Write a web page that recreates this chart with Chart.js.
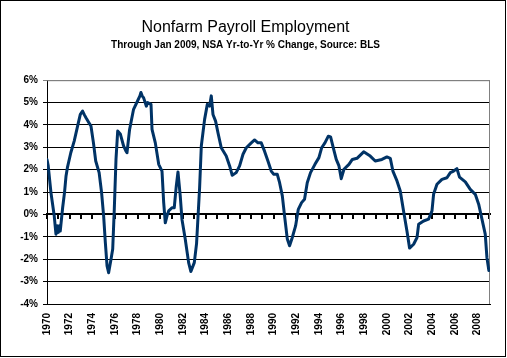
<!DOCTYPE html>
<html>
<head>
<meta charset="utf-8">
<script src="https://cdn.jsdelivr.net/npm/chart.js@4.4.1/dist/chart.umd.min.js"></script>
<style>
  body { margin: 0; background: #fff; }
  .frame { width: 504px; height: 355px; border: 1px solid #000; }
</style>
</head>
<body>
<div class="frame"><canvas id="payrollChart" width="504" height="355"></canvas></div>
<script>
// year-over-year % change (decimal years)
const years = [
  1970.00, 1970.10, 1970.35, 1970.64, 1970.79, 1970.90, 1971.00, 1971.10, 1971.17, 1971.38,
  1971.55, 1971.68, 1971.80, 1972.10, 1972.40, 1972.70, 1972.94, 1973.14, 1973.30, 1973.44,
  1973.70, 1973.88, 1974.10, 1974.30, 1974.60, 1974.82, 1975.00, 1975.15, 1975.30, 1975.44,
  1975.65, 1975.80, 1975.94, 1976.09, 1976.24, 1976.47, 1976.76, 1976.95, 1977.06, 1977.29,
  1977.64, 1977.99, 1978.20, 1978.29, 1978.40, 1978.53, 1978.77, 1978.88, 1979.18, 1979.27,
  1979.56, 1979.86, 1980.15, 1980.30, 1980.44, 1980.60, 1980.74, 1981.03, 1981.23, 1981.41,
  1981.56, 1981.76, 1981.91, 1982.20, 1982.50, 1982.70, 1983.00, 1983.20, 1983.47, 1983.62,
  1983.91, 1984.15, 1984.35, 1984.50, 1984.65, 1984.88, 1985.09, 1985.38, 1985.82, 1986.12,
  1986.35, 1986.70, 1987.00, 1987.30, 1987.59, 1988.03, 1988.32, 1988.62, 1988.91, 1989.20,
  1989.50, 1989.79, 1990.00, 1990.32, 1990.53, 1990.77, 1990.97, 1991.21, 1991.41, 1991.65,
  1991.94, 1992.18, 1992.47, 1992.73, 1992.97, 1993.26, 1993.65, 1994.00, 1994.24, 1994.53,
  1994.83, 1995.03, 1995.27, 1995.53, 1995.77, 1995.97, 1996.21, 1996.65, 1996.95, 1997.36,
  1997.95, 1998.53, 1998.97, 1999.56, 2000.00, 2000.30, 2000.53, 2000.89, 2001.18, 2001.47,
  2001.77, 2002.00, 2002.36, 2002.66, 2002.80, 2003.24, 2003.68, 2003.98, 2004.12, 2004.42,
  2004.86, 2005.30, 2005.60, 2005.89, 2006.18, 2006.41, 2006.92, 2007.36, 2007.80, 2008.10,
  2008.39, 2008.68, 2008.83, 2009.00
];
const values = [
  2.46, 2.2, 0.97, -0.07, -0.88, -0.5, -0.8, -0.5, -0.74, 0.3,
  1.0, 1.72, 2.09, 2.76, 3.28, 3.95, 4.47, 4.62, 4.45, 4.32,
  4.1, 3.95, 3.2, 2.39, 1.87, 0.97, -0.07, -1.26, -2.3, -2.6,
  -2.0, -1.54, 0.25, 2.47, 3.73, 3.6, 3.06, 2.85, 2.76, 3.8,
  4.7, 5.07, 5.3, 5.45, 5.3, 5.21, 4.84, 5.0, 4.92, 3.8,
  3.2, 2.24, 1.94, 0.53, -0.37, -0.05, 0.16, 0.3, 0.3, 1.27,
  1.9, 0.83, -0.21, -1.1, -2.15, -2.55, -2.15, -1.3, 1.2, 3.06,
  4.25, 4.92, 4.84, 5.3, 4.47, 4.17, 3.65, 2.98, 2.61, 2.17,
  1.75, 1.87, 2.17, 2.69, 2.98, 3.2, 3.33, 3.2, 3.2, 2.83,
  2.39, 1.94, 1.8, 1.8, 1.42, 0.83, -0.07, -1.1, -1.4, -1.03,
  -0.51, 0.23, 0.53, 0.68, 1.42, 1.87, 2.24, 2.54, 2.98, 3.2,
  3.5, 3.47, 2.98, 2.46, 2.17, 1.6, 2.02, 2.24, 2.46, 2.51,
  2.8, 2.61, 2.39, 2.46, 2.57, 2.51, 1.94, 1.5, 1.05, 0.16,
  -0.74, -1.5, -1.33, -1.03, -0.44, -0.29, -0.21, 0.16, 0.9, 1.35,
  1.57, 1.64, 1.87, 1.94, 2.05, 1.67, 1.46, 1.12, 0.9, 0.46,
  -0.21, -0.88, -1.93, -2.5
];
const labelYears = [1970, 1972, 1974, 1976, 1978, 1980, 1982, 1984, 1986, 1988,
  1990, 1992, 1994, 1996, 1998, 2000, 2002, 2004, 2006, 2008];
const yearMarks = [];
for (let y = 1970; y <= 2009; y++) yearMarks.push(y);

const fontFamily = "'Liberation Sans', Arial, sans-serif";
const xMin = 1970, xMax = 2009.1;

// gray plot-area frame, axes are drawn over it
const plotFrame = {
  id: 'plotFrame',
  beforeDatasetsDraw(chart) {
    const a = chart.chartArea;
    const ctx = chart.ctx;
    ctx.save();
    ctx.strokeStyle = '#808080';
    ctx.lineWidth = 1;
    ctx.beginPath();
    ctx.moveTo(a.left, a.top + 0.5);
    ctx.lineTo(a.right - 0.5, a.top + 0.5);
    ctx.lineTo(a.right - 0.5, a.bottom);
    ctx.stroke();
    ctx.restore();
  }
};

const points = years.map((x, i) => ({ x: x, y: values[i] }));

new Chart(document.getElementById('payrollChart'), {
  type: 'line',
  data: {
    datasets: [{
      data: points,
      borderColor: '#003366',
      borderWidth: 3,
      borderJoinStyle: 'round',
      borderCapStyle: 'round',
      pointRadius: 0,
      tension: 0,
      xAxisID: 'x',
      yAxisID: 'y'
    }]
  },
  options: {
    responsive: false,
    animation: false,
    devicePixelRatio: 1,
    layout: { padding: { left: 0, right: 15, top: 0, bottom: 0 } },
    plugins: {
      legend: { display: false },
      tooltip: { enabled: false },
      title: {
        display: true,
        text: 'Nonfarm Payroll Employment',
        color: '#000',
        font: { family: fontFamily, size: 16, weight: 'normal' },
        padding: { top: 17, bottom: 0 }
      },
      subtitle: {
        display: true,
        text: 'Through Jan 2009, NSA Yr-to-Yr % Change, Source: BLS',
        color: '#000',
        font: { family: fontFamily, size: 10, weight: 'bold' },
        padding: { top: 2, bottom: 29 }
      }
    },
    scales: {
      x: {
        type: 'linear',
        position: 'bottom',
        min: xMin,
        max: xMax,
        afterBuildTicks: (scale) => { scale.ticks = labelYears.map(v => ({ value: v })); },
        afterFit: (scale) => { scale.height = 52; },
        grid: { display: false, drawTicks: false },
        border: { display: true, color: '#000', width: 1 },
        ticks: {
          autoSkip: false,
          minRotation: 90,
          maxRotation: 90,
          padding: 9,
          color: '#000',
          font: { family: fontFamily, size: 10, weight: 'bold' },
          callback: (v) => String(v)
        }
      },
      x2: {
        type: 'linear',
        axis: 'x',
        position: { y: 0 },
        min: xMin,
        max: xMax,
        afterBuildTicks: (scale) => { scale.ticks = yearMarks.map(v => ({ value: v })); },
        grid: { display: true, drawOnChartArea: false, drawTicks: true, tickLength: 4, color: '#000', lineWidth: 2 },
        border: { display: true, color: '#000', width: 2 },
        ticks: { display: false }
      },
      y: {
        type: 'linear',
        min: -4,
        max: 6,
        afterFit: (scale) => { scale.width = 46; },
        grid: {
          color: (c) => c.tick && c.tick.value === 6 ? '#808080' : '#000',
          lineWidth: 1,
          drawTicks: true,
          tickLength: 4
        },
        border: { display: true, color: '#000', width: 1 },
        ticks: {
          stepSize: 1,
          padding: 5,
          color: '#000',
          font: { family: fontFamily, size: 10, weight: 'bold' },
          callback: (v) => v + '%'
        }
      }
    }
  },
  plugins: [plotFrame]
});
</script>
</body>
</html>
